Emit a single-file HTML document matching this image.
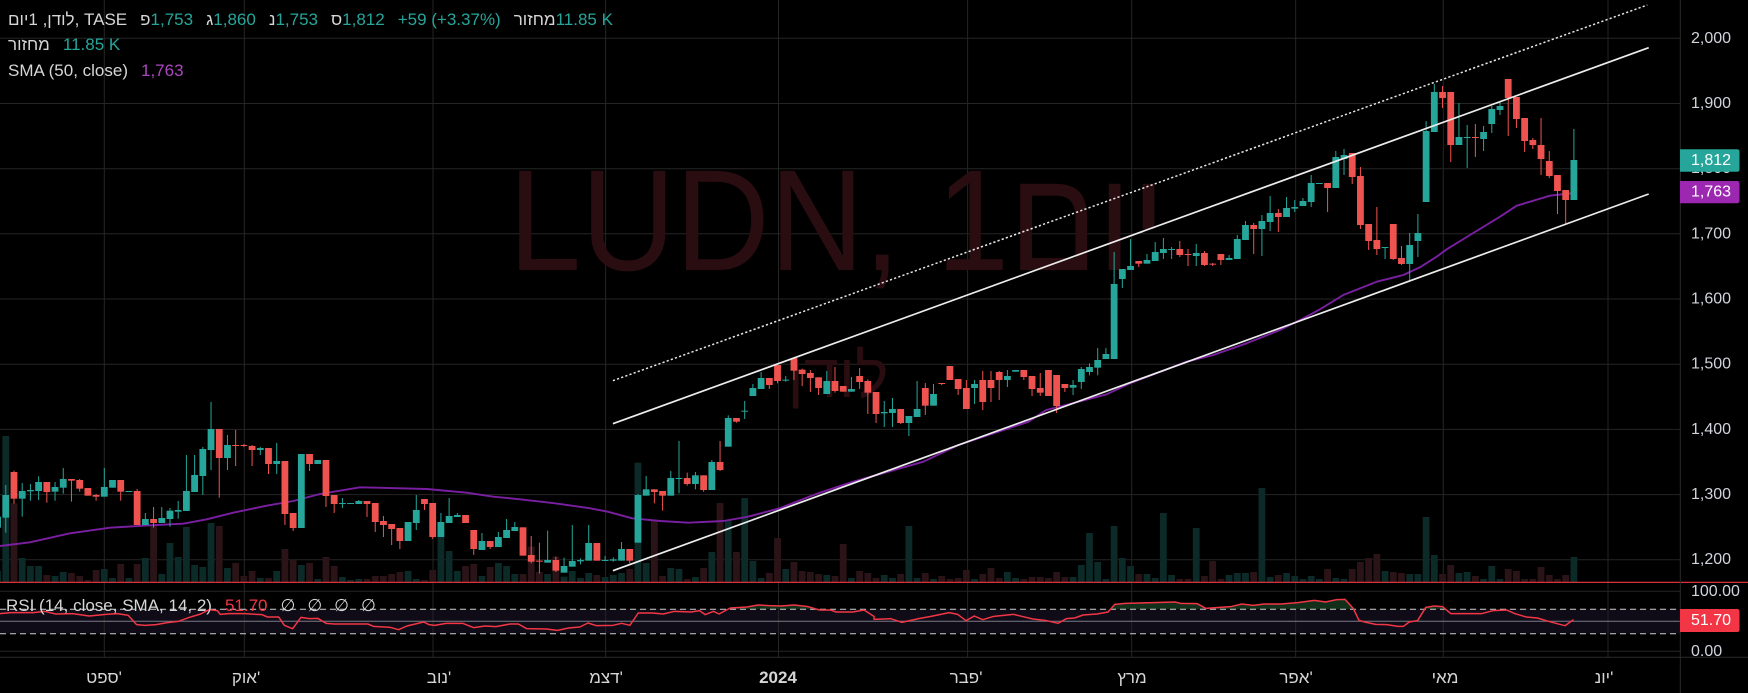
<!DOCTYPE html>
<html><head><meta charset="utf-8"><title>LUDN</title>
<style>
html,body{margin:0;padding:0;background:#000;}
body{width:1748px;height:693px;overflow:hidden;position:relative;font-family:"Liberation Sans","DejaVu Sans",sans-serif;color:#d6d6d6;}
#c{position:absolute;left:0;top:0;}
.ln{position:absolute;left:8px;height:24px;line-height:24px;font-size:17px;white-space:nowrap;direction:ltr;}
.it{display:inline-block;unicode-bidi:isolate;margin-right:13px;}
.s{display:inline-block;unicode-bidi:isolate;}
.g{color:#26a69a}
.p{color:#ab47bc}
.r{color:#f23645}
.tl{position:absolute;top:667px;font-size:17px;line-height:22px;transform:translateX(-50%);white-space:nowrap;color:#d6d6d6;direction:ltr;}
</style></head><body>
<svg id="c" width="1748" height="693" xmlns="http://www.w3.org/2000/svg" font-family="Liberation Sans, DejaVu Sans, sans-serif">
<rect x="0" y="0" width="1748" height="693" fill="#000"/>
<rect x="0" y="609.3" width="1680" height="24.4" fill="#0f0c18"/>
<g stroke="#252525" stroke-width="1">
<line x1="0" y1="38.3" x2="1680" y2="38.3"/>
<line x1="0" y1="103.5" x2="1680" y2="103.5"/>
<line x1="0" y1="168.7" x2="1680" y2="168.7"/>
<line x1="0" y1="233.8" x2="1680" y2="233.8"/>
<line x1="0" y1="299" x2="1680" y2="299"/>
<line x1="0" y1="364.2" x2="1680" y2="364.2"/>
<line x1="0" y1="429.4" x2="1680" y2="429.4"/>
<line x1="0" y1="494.6" x2="1680" y2="494.6"/>
<line x1="0" y1="559.7" x2="1680" y2="559.7"/>
<line x1="0" y1="591.3" x2="1680" y2="591.3"/>
<line x1="0" y1="651.3" x2="1680" y2="651.3"/>
<line x1="104.3" y1="0" x2="104.3" y2="657"/>
<line x1="244.3" y1="0" x2="244.3" y2="657"/>
<line x1="433" y1="0" x2="433" y2="657"/>
<line x1="605.6" y1="0" x2="605.6" y2="657"/>
<line x1="778.5" y1="0" x2="778.5" y2="657"/>
<line x1="967.6" y1="0" x2="967.6" y2="657"/>
<line x1="1131.7" y1="0" x2="1131.7" y2="657"/>
<line x1="1295.7" y1="0" x2="1295.7" y2="657"/>
<line x1="1443.3" y1="0" x2="1443.3" y2="657"/>
<line x1="1608" y1="0" x2="1608" y2="657"/>
</g>
<text x="508.5" y="270" font-size="144" fill="#2a0d11" textLength="657" lengthAdjust="spacingAndGlyphs" direction="ltr">LUDN, 1יום</text>
<text x="838" y="397" font-size="62" fill="#2a0d11" text-anchor="middle" textLength="101" lengthAdjust="spacingAndGlyphs">לודן</text>
<g id="vol"></g>
<defs><clipPath id="ob"><rect x="0" y="585" width="1680" height="24.3"/></clipPath></defs>
<path id="rsifill" d="" fill="#123019" clip-path="url(#ob)"/>
<line x1="0" y1="621.3" x2="1680" y2="621.3" stroke="#787b86" stroke-width="1"/>
<line x1="0" y1="609.3" x2="1680" y2="609.3" stroke="#cfcfcf" stroke-width="1" stroke-dasharray="6 4"/>
<line x1="0" y1="633.7" x2="1680" y2="633.7" stroke="#cfcfcf" stroke-width="1" stroke-dasharray="6 4"/>
<path id="rsi" d="" fill="none" stroke="#f23645" stroke-width="1.5" stroke-linejoin="round"/>
<path id="sma" d="" fill="none" stroke="#7b1fa2" stroke-width="1.9" stroke-linejoin="round"/>
<g id="cdl"></g>
<line x1="612.9" y1="380.7" x2="1647.3" y2="5" stroke="#e8e8e8" stroke-width="1.5" stroke-dasharray="2.2 2.2"/>
<line x1="612.9" y1="423.7" x2="1648.7" y2="47.7" stroke="#ececec" stroke-width="1.7"/>
<line x1="612.9" y1="570.7" x2="1648.7" y2="194" stroke="#ececec" stroke-width="1.7"/>
<line x1="0" y1="582.3" x2="1748" y2="582.3" stroke="#f23645" stroke-width="1.2"/>
<line x1="1680.3" y1="0" x2="1680.3" y2="693" stroke="#2a2a2a" stroke-width="1"/>
<line x1="0" y1="657.3" x2="1748" y2="657.3" stroke="#2a2a2a" stroke-width="1"/>
<g font-size="16" fill="#d1d4dc" dominant-baseline="central">
<text x="1691" y="38.3">2,000</text>
<text x="1691" y="103.5">1,900</text>
<text x="1691" y="168.7">1,800</text>
<text x="1691" y="233.8">1,700</text>
<text x="1691" y="299">1,600</text>
<text x="1691" y="364.2">1,500</text>
<text x="1691" y="429.4">1,400</text>
<text x="1691" y="494.6">1,300</text>
<text x="1691" y="559.7">1,200</text>
<text x="1691" y="591.3">100.00</text>
<text x="1691" y="651.3">0.00</text>
</g>
<path d="M1680 149.3 H1737 Q1739.5 149.3 1739.5 151.8 V169.2 Q1739.5 171.7 1737 171.7 H1680 Z" fill="#26a69a"/>
<path d="M1680 181 H1737 Q1739.5 181 1739.5 183.5 V200.8 Q1739.5 203.3 1737 203.3 H1680 Z" fill="#9c27b0"/>
<path d="M1680 609 H1737 Q1739.5 609 1739.5 611.5 V629.5 Q1739.5 632 1737 632 H1680 Z" fill="#f23645"/>
<g font-size="16" fill="#ffffff" dominant-baseline="central">
<text x="1691" y="160.5">1,812</text>
<text x="1691" y="192.2">1,763</text>
<text x="1691" y="620.5">51.70</text>
</g>
</svg>

<div class="ln" style="top:8px">
<span class="it">לודן, 1יום, TASE</span><span class="it"><span class="s">פ</span><span class="s g">1,753</span></span><span class="it"><span class="s">ג</span><span class="s g">1,860</span></span><span class="it"><span class="s">נ</span><span class="s g">1,753</span></span><span class="it"><span class="s">ס</span><span class="s g">1,812</span></span><span class="it g">+59 (+3.37%)</span><span class="it"><span class="s">מחזור</span><span class="s g">11.85 K</span></span>
</div>
<div class="ln" style="top:33px"><span class="it">מחזור</span><span class="it g">11.85 K</span></div>
<div class="ln" style="top:58.5px"><span class="it">SMA (50, close)</span><span class="it p">1,763</span></div>
<div class="ln" style="top:594px;left:6px"><span class="it">RSI (14, close, SMA, 14, 2)</span><span class="it r">51.70</span><span class="it" style="margin-right:12px">∅</span><span class="it" style="margin-right:12px">∅</span><span class="it" style="margin-right:12px">∅</span><span class="it">∅</span></div>

<div class="tl" style="left:104px">ספט'</div>
<div class="tl" style="left:246px">אוק'</div>
<div class="tl" style="left:439px">נוב'</div>
<div class="tl" style="left:606px">דצמ'</div>
<div class="tl" style="left:778px;font-weight:bold">2024</div>
<div class="tl" style="left:966px">פבר'</div>
<div class="tl" style="left:1132px">מרץ</div>
<div class="tl" style="left:1296px">אפר'</div>
<div class="tl" style="left:1445px">מאי</div>
<div class="tl" style="left:1604px">יונ'</div>

<script>
(function(){
var A=[[1,410,443,400,450,573,1],[1,345,413,315,458,168,1],[0,276,356,272,371,370,0],[1,333,356,309,410,534,1],[1,330,334,312,362,558,1],[1,306,333,289,360,558,1],[0,306,336,306,368,585,0],[1,321,335,306,362,588,1],[1,297,323,264,341,576,1],[0,297,302,297,365,579,0],[0,300,326,297,335,588,0],[0,324,347,324,347,600,0],[0,345,350,342,362,570,0],[1,321,350,264,350,567,1],[1,300,323,300,323,594,1],[0,300,335,300,362,552,0],[1,333,335,333,335,594,1],[0,333,435,327,435,552,0],[1,417,435,399,435,534,1],[0,417,429,381,443,438,0],[1,414,429,381,429,582,1],[1,392,417,384,440,489,1],[1,390,395,363,416,531,1],[1,333,393,225,393,441,1],[1,285,336,225,336,555,1],[1,207,288,201,345,561,1],[1,147,210,66,270,429,1],[0,147,234,147,353,438,0],[1,195,234,165,270,564,1],[0,195,198,150,258,549,0],[0,195,198,192,201,588,0],[0,198,210,195,258,573,0],[1,204,210,201,225,594,1],[0,204,252,204,282,594,0],[1,243,252,189,282,573,1],[0,243,402,243,435,507,0],[0,399,444,399,453,540,0],[1,222,444,222,444,555,1],[0,222,252,222,273,549,0],[1,240,252,240,252,597,1],[0,240,348,240,381,531,0],[0,345,372,345,399,558,0],[1,369,372,354,384,591,1],[1,369,372,369,372,600,1],[1,363,372,360,372,597,1],[0,363,372,363,411,597,0],[0,369,426,369,456,588,0],[0,423,435,408,471,588,0],[0,432,447,432,495,582,0],[0,444,483,444,507,576,0],[1,426,483,426,483,573,1],[1,390,429,345,450,597,1],[0,357,372,357,390,600,0],[0,369,471,369,477,570,0],[1,426,471,399,471,471,1],[1,408,429,354,429,513,1],[1,405,411,399,411,573,1],[0,405,429,405,429,558,0],[0,450,507,450,525,552,0],[1,483,510,459,510,588,1],[0,483,501,483,507,561,0],[1,471,501,456,501,549,1],[1,450,474,417,474,558,1],[1,441,453,426,453,582,1]];
var B=[[0,712,797,712,797,852,0],[0,795,815,738,820,770,0],[0,812,815,758,850,846,0],[1,810,818,722,818,852,1],[0,810,842,800,846,800,0],[1,828,848,803,848,860,1],[1,813,830,705,830,843,1],[1,810,814,805,823,864,1],[1,759,812,705,812,849,1],[0,759,812,759,812,855,0],[1,810,812,798,812,861,1],[1,808,812,802,815,855,1],[1,777,812,756,812,849,1],[0,777,812,777,820,837,0],[1,615,758,612,758,518,1],[1,598,617,558,617,819,1],[0,598,606,598,640,690,0],[0,603,617,603,662,858,0],[1,564,617,543,617,834,1],[1,564,566,453,610,837,1],[0,564,582,548,587,867,0],[1,556,582,546,598,861,1],[0,556,600,556,605,834,0],[1,516,600,510,600,786,1],[0,516,540,453,543,639,0],[1,384,470,376,470,690,1],[0,384,395,384,398,786,0],[1,362,365,333,387,624,1],[1,294,318,282,318,813,1],[1,264,297,246,297,864,1],[0,264,285,264,297,849,0],[0,225,273,225,280,744,0],[1,269,272,258,275,837,1],[0,204,242,204,270,816,0],[0,239,252,236,288,843,0],[0,249,264,240,306,846,0],[0,262,294,262,315,852,0],[1,273,312,243,312,855,1],[0,273,303,231,308,858,0],[0,288,305,288,305,762,0],[1,297,305,261,305,864,1],[0,258,276,234,297,843,0],[0,273,308,268,372,849,0],[0,306,372,306,399,864,0],[1,366,370,333,411,855,1],[1,357,369,324,411,864,1],[0,357,399,357,402,852,0],[1,378,399,378,438,708,1],[1,357,381,273,381,864,1],[0,294,347,279,375,849,0],[1,312,347,282,347,867,1],[0,279,282,279,285,858,0],[0,228,270,228,270,867,0],[0,267,297,267,315,864,0],[0,294,357,270,357,840,0],[1,282,294,270,342,867,1],[0,270,336,243,360,852,0],[0,270,294,243,336,834,0],[0,246,270,243,330,864,0],[1,258,270,240,291,846,1],[1,240,245,240,245,864,1],[0,240,261,240,270,867,0],[0,258,297,258,318,861,0],[0,294,308,249,318,861,0],[0,240,318,240,318,864,0],[0,255,348,255,369,846,0],[0,282,294,282,306,861,0]];
var C=[[1,975,983,960,1005,1551,1],[1,927,966,921,987,1515,1],[1,921,936,910,946,1419,1],[1,900,923,864,946,1506,1],[1,882,897,864,897,1557,1],[1,672,897,576,897,1398,1],[1,627,657,627,684,1494,1],[1,618,630,537,630,1518,1],[0,603,611,603,621,1542,0],[1,600,611,582,611,1542,1],[1,576,603,546,603,1554,1],[1,567,579,534,597,1359,1],[1,567,570,561,597,1545,1],[0,567,585,543,591,1557,0],[0,582,585,567,618,1557,0],[1,579,588,552,618,1404,1],[0,579,615,573,618,1548,0],[0,611,614,609,618,1503,0],[0,582,600,582,615,1557,0],[1,594,600,585,600,1545,1],[1,537,597,525,597,1539,1],[1,495,540,483,540,1539,1],[0,495,507,489,582,1536,0],[1,483,507,465,588,1284,1],[1,459,486,408,513,1551,1],[0,459,471,447,516,1545,0],[1,444,471,411,471,1539,1],[1,441,446,420,456,1548,1],[1,423,438,414,438,1557,1],[1,369,426,345,441,1548,1],[1,369,372,369,372,1557,1],[0,369,384,369,456,1527,0],[1,291,384,273,384,1554,1],[1,285,297,267,345,1557,1],[0,279,351,279,372,1527,0],[0,348,495,321,507,1506,0],[0,492,543,492,570,1494,0],[0,540,567,441,585,1482,0],[1,561,564,561,597,1533,1],[0,492,597,492,600,1536,0],[0,594,612,558,615,1539,0],[1,555,612,519,663,1542,1],[1,519,543,462,591,1542,1],[1,213,426,183,426,1371,1],[1,96,216,72,216,1485,1],[0,96,114,78,144,1542,0],[0,96,255,96,306,1515,0],[1,231,255,129,255,1539,1],[1,231,234,195,324,1536,1],[0,231,234,192,291,1548,0],[1,216,237,198,273,1557,1],[1,147,192,138,219,1518,1],[1,138,150,126,165,1557,1],[0,57,114,57,228,1527,0],[0,111,177,111,204,1533,0],[0,174,243,174,276,1557,0],[0,240,255,234,267,1557,0],[0,255,297,174,345,1521,0],[0,303,348,273,354,1545,0],[0,345,393,345,462,1557,0],[0,390,420,390,492,1545,0],[1,300,420,207,420,1491,1]];
var vs='',cs='';
function seg(i0,off,arr){
 for(var k=0;k<arr.length;k++){
  var d=arr[k],i=i0+k,x=5.78+8.21*i;
  var bt=off+d[1]/3,bb=off+d[2]/3,wt=off+d[3]/3,wb=off+d[4]/3,vt=off+d[5]/3;
  var col=d[0]?'#26a69a':'#ef5350';
  var vcol=d[6]?'#0b2a28':'#2b1417';
  vs+='<rect x="'+(x-3.4).toFixed(2)+'" y="'+vt.toFixed(2)+'" width="6.8" height="'+Math.max(0,582-vt).toFixed(2)+'" fill="'+vcol+'"/>';
  cs+='<rect x="'+(x-0.5).toFixed(2)+'" y="'+wt.toFixed(2)+'" width="1" height="'+Math.max(1,wb-wt).toFixed(2)+'" fill="'+col+'"/>';
  cs+='<rect x="'+(x-3.4).toFixed(2)+'" y="'+bt.toFixed(2)+'" width="6.8" height="'+Math.max(1,bb-bt).toFixed(2)+'" fill="'+col+'"/>';
 }
}
seg(-1,380,A);seg(63,290,B);seg(130,60,C);
document.getElementById('vol').innerHTML=vs;
document.getElementById('cdl').innerHTML=cs;
var S=[[0,546],[30,542.3],[70,533.3],[110,527.7],[150,525.3],[183.3,523.7],[206.7,519.3],[233.3,512.7],[266.7,505.7],[293.3,501],[320,494],[360,487.3],[426.7,489],[466.7,492.7],[493.3,496.7],[520,499.3],[555.1,503.3],[590.2,508.3],[607.7,511.7],[632.2,518.3],[660.3,521],[688.4,522.7],[723.4,521],[748,516.7],[779.6,508.3],[818.1,493.3],[853.2,481.7],[888.3,471.7],[923.4,461.7],[958.4,445],[993.5,433.3],[1028.6,421.7],[1046.1,410],[1070,404],[1106.7,394.3],[1130,383.3],[1186.7,361.7],[1213.3,355],[1246.7,343.3],[1280,330],[1303.3,318.3],[1320,309.3],[1343.3,295],[1376.7,281.7],[1403.3,275],[1420,267.3],[1436.7,256.7],[1446.7,249.3],[1470,235],[1500,216.7],[1516.7,205.7],[1550,195.7],[1574,193]];
var p='';for(var k=0;k<S.length;k++){p+=(k?'L':'M')+S[k][0]+' '+S[k][1];}
document.getElementById('sma').setAttribute('d',p);
var R9=[[0,95],[20,92],[60,92],[80,88],[100,96],[130,95],[160,102],[190,97],[210,95],[230,100],[245,128],[260,130],[280,128],[300,122],[320,118],[340,106],[360,96],[375,83],[390,86],[395,97],[410,95],[440,95],[470,98],[480,105],[500,105],[510,130],[525,140],[540,106],[555,110],[570,109],[585,124],[600,126],[620,126],[660,126],[670,133],[700,136],[715,143],[730,132],[760,120],[770,128],[780,130],[800,124],[830,124],[850,137],[870,132],[890,134],[915,126],[930,126],[945,140],[980,141],[1000,145],[1020,138],[1040,135],[1055,123],[1070,131],[1100,130],[1115,124],[1130,130],[1145,93],[1170,93],[1190,96],[1210,88],[1240,90],[1255,86],[1265,98],[1280,88],[1290,96],[1310,78],[1340,75],[1360,69],[1380,71],[1400,72],[1425,69],[1450,74],[1470,84],[1490,84],[1500,90],[1530,90],[1550,84],[1568,103]];
var R10=[[0,112],[30,110],[50,121],[80,110],[100,104],[135,92],[150,97],[165,116],[180,102],[195,113],[215,103],[250,97],[265,103],[285,111],[310,116],[330,124],[345,110],[360,108],[375,99],[400,96],[420,90],[432,67],[450,64],[500,62],[540,60],[550,64],[580,65],[595,79],[620,76],[640,74],[660,66],[680,70],[700,66],[730,66],[760,62],[790,55],[810,60],[830,53],[845,52],[860,80],[870,115],[880,120],[900,127],[920,128],[940,133],[950,133],[960,120],[975,116],[990,76],[1005,72],[1020,74],[1035,95],[1060,95],[1090,95],[1110,86],[1135,84],[1150,95],[1170,105],[1190,108],[1210,118],[1230,127],[1240,131],[1255,113]];
var pts=[];
R9.forEach(function(q){pts.push([q[0]/1.794,582+q[1]/3]);});
R10.forEach(function(q){pts.push([874+q[0]/1.794,582+q[1]/3]);});
var r='';for(var k=0;k<pts.length;k++){r+=(k?'L':'M')+pts[k][0].toFixed(2)+' '+pts[k][1].toFixed(2);}
document.getElementById('rsi').setAttribute('d',r);
var f='M0 609.3';for(var k=0;k<pts.length;k++){f+='L'+pts[k][0].toFixed(2)+' '+pts[k][1].toFixed(2);}
f+='L'+pts[pts.length-1][0].toFixed(2)+' 609.3Z';
document.getElementById('rsifill').setAttribute('d',f);
})();
</script>
</body></html>
